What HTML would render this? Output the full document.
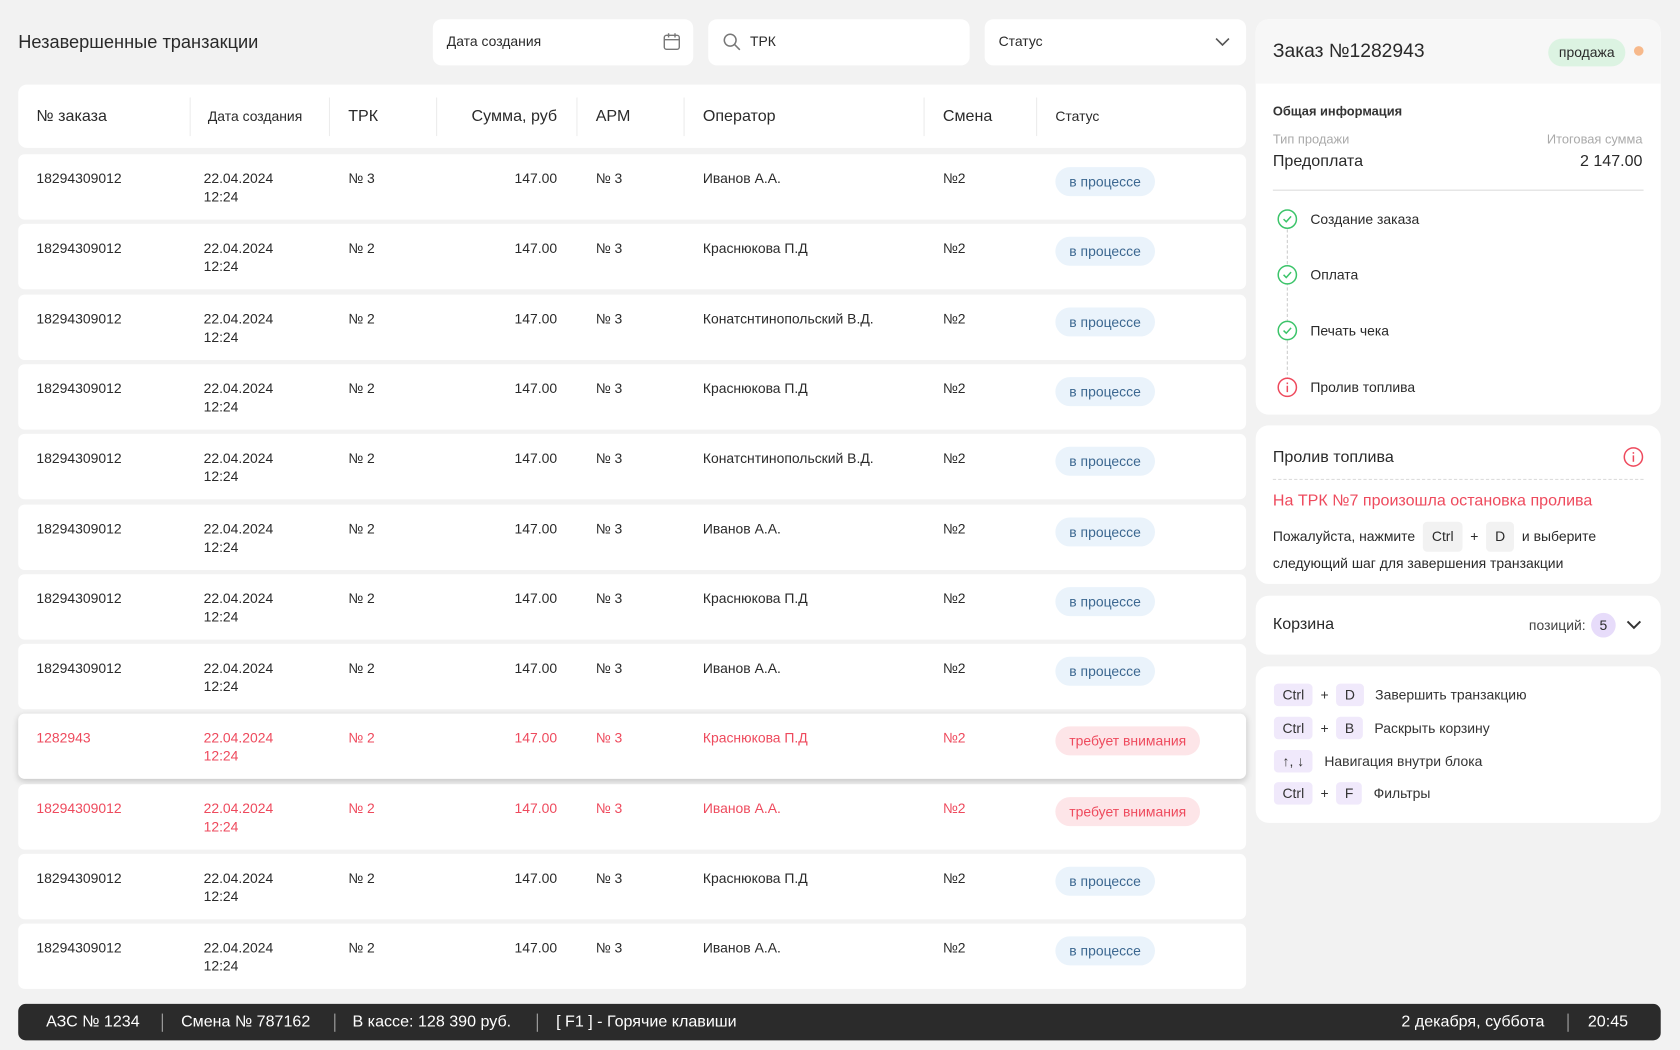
<!DOCTYPE html>
<html><head><meta charset="utf-8">
<style>
*{box-sizing:border-box;margin:0;padding:0}
html,body{width:1680px;height:1050px;overflow:hidden;background:#f2f2f2}
#root{width:1568px;height:980px;transform:scale(1.07143);transform-origin:0 0;position:relative;font-family:"Liberation Sans",sans-serif;color:#2a2a2a}
.abs{position:absolute}
.card{position:absolute;background:#fff;border-radius:12px}
.inp{position:absolute;top:18px;height:43px;background:#fff;border-radius:8px;font-size:13px;padding:13px 13px;color:#2a2a2a}
.th{position:absolute;top:79px;font-size:14px;color:#2a2a2a}
.sep{position:absolute;top:91px;width:1px;height:36px;background:#ececec}
.row{position:absolute;left:17px;width:1146px;height:61px;background:#fff;border-radius:6px;font-size:13px}
.row span{position:absolute;top:14px;line-height:17px}
.badge{position:absolute;top:12px;left:968px;height:27px;border-radius:14px;padding:6px 13px;font-size:13px;background:#eaf3fb;color:#3b6790}
.red{color:#ee4a5d}
.red .badge{background:#fde5e8;color:#ee4a5d}
.kbd{display:inline-block;background:#f0e9fb;border-radius:4px;padding:3px 8px;font-size:13px}
.hk{position:absolute;left:17px;font-size:13px;color:#333}
</style></head><body>
<div id="root">
<div class="abs" style="left:17px;top:30px;font-size:17px;font-weight:500">Незавершенные транзакции</div>
<div class="inp" style="left:404px;width:243px">Дата создания
<svg class="abs" style="left:214px;top:12px" width="18" height="18" viewBox="0 0 18 18" fill="none" stroke="#777" stroke-width="1.3"><rect x="2" y="3" width="14" height="13" rx="2"/><path d="M2 7h14M6 1v4M12 1v4"/></svg></div>
<div class="inp" style="left:661px;width:244px;padding-left:39px">ТРК
<svg class="abs" style="left:13px;top:12px" width="18" height="18" viewBox="0 0 18 18" fill="none" stroke="#777" stroke-width="1.4"><circle cx="7.5" cy="7.5" r="5.5"/><path d="M11.5 11.5l5 5"/></svg></div>
<div class="inp" style="left:919px;width:244px">Статус
<svg class="abs" style="left:214px;top:15px" width="16" height="12" viewBox="0 0 16 12" fill="none" stroke="#555" stroke-width="1.5"><path d="M2 3l6 6 6-6"/></svg></div>

<div class="card" style="left:17px;top:79px;width:1146px;height:59px;border-radius:8px"></div>
<div class="th" style="left:34px;top:100px;font-size:15px">№ заказа</div>
<div class="th" style="left:194px;top:101px;font-size:13px">Дата создания</div>
<div class="th" style="left:325px;top:100px;font-size:15px">ТРК</div>
<div class="th" style="left:420px;width:100px;text-align:right;top:100px;font-size:15px">Сумма, руб</div>
<div class="th" style="left:556px;top:100px;font-size:15px">АРМ</div>
<div class="th" style="left:656px;top:100px;font-size:15px">Оператор</div>
<div class="th" style="left:880px;top:100px;font-size:15px">Смена</div>
<div class="th" style="left:985px;top:101px;font-size:13px">Статус</div>
<div class="sep" style="left:177px"></div><div class="sep" style="left:307px"></div><div class="sep" style="left:407px"></div><div class="sep" style="left:538px"></div><div class="sep" style="left:638px"></div><div class="sep" style="left:862px"></div><div class="sep" style="left:967px"></div>
<div id="rows"></div>

<div class="card" style="left:1172px;top:18px;width:378px;height:369px;overflow:hidden">
 <div class="abs" style="left:0;top:0;width:378px;height:60px;background:#f7f7f7"></div>
 <div class="abs" style="left:16px;top:19px;font-size:18px">Заказ №1282943</div>
 <div class="abs" style="left:273px;top:18px;height:26px;padding:5px 10px;border-radius:13px;background:#dcf3e2;font-size:13px">продажа</div>
 <div class="abs" style="left:353px;top:25px;width:9px;height:9px;border-radius:50%;background:#f7b98b"></div>
 <div class="abs" style="left:16px;top:79px;font-size:12px;font-weight:bold;color:#333">Общая информация</div>
 <div class="abs" style="left:16px;top:105px;font-size:12px;color:#aaa">Тип продажи</div>
 <div class="abs" style="right:17px;top:105px;font-size:12px;color:#aaa">Итоговая сумма</div>
 <div class="abs" style="left:16px;top:124px;font-size:15px">Предоплата</div>
 <div class="abs" style="right:17px;top:124px;font-size:15px">2 147.00</div>
 <div class="abs" style="left:16px;top:159px;width:346px;height:1px;background:#ddd"></div>
 <div class="abs" style="left:29px;top:196px;height:146px;border-left:1px dashed #ccc"></div>
 <svg class="abs" style="left:20px;top:177px" width="19" height="19" viewBox="0 0 19 19" fill="#fff" stroke="#3cc46a" stroke-width="1.4"><circle cx="9.5" cy="9.5" r="8.5"/><path d="M6 9.5l2.5 2.5 4.5-5" fill="none"/></svg>
 <svg class="abs" style="left:20px;top:229px" width="19" height="19" viewBox="0 0 19 19" fill="#fff" stroke="#3cc46a" stroke-width="1.4"><circle cx="9.5" cy="9.5" r="8.5"/><path d="M6 9.5l2.5 2.5 4.5-5" fill="none"/></svg>
 <svg class="abs" style="left:20px;top:281px" width="19" height="19" viewBox="0 0 19 19" fill="#fff" stroke="#3cc46a" stroke-width="1.4"><circle cx="9.5" cy="9.5" r="8.5"/><path d="M6 9.5l2.5 2.5 4.5-5" fill="none"/></svg>
 <svg class="abs" style="left:20px;top:334px" width="19" height="19" viewBox="0 0 19 19" fill="#fff" stroke="#ee4a5d" stroke-width="1.4"><circle cx="9.5" cy="9.5" r="8.5"/><path d="M9.5 8v6M9.5 5v1.5" fill="none"/></svg>
 <div class="abs" style="left:51px;top:179px;font-size:13px">Создание заказа</div>
 <div class="abs" style="left:51px;top:231px;font-size:13px">Оплата</div>
 <div class="abs" style="left:51px;top:283px;font-size:13px">Печать чека</div>
 <div class="abs" style="left:51px;top:336px;font-size:13px">Пролив топлива</div>
</div>

<div class="card" style="left:1172px;top:397px;width:378px;height:148px">
 <div class="abs" style="left:16px;top:21px;font-size:15px">Пролив топлива</div>
 <svg class="abs" style="left:343px;top:20px" width="19" height="19" viewBox="0 0 19 19" fill="none" stroke="#ee4a5d" stroke-width="1.4"><circle cx="9.5" cy="9.5" r="8.5"/><path d="M9.5 8v6M9.5 5v1.5"/></svg>
 <div class="abs" style="left:16px;top:50px;width:346px;border-top:1px dashed #ddd"></div>
 <div class="abs" style="left:16px;top:62px;font-size:15px;color:#ee4a5d">На ТРК №7 произошла остановка пролива</div>
 <div class="abs" style="left:16px;top:90px;font-size:13px;line-height:22px;width:346px">Пожалуйста, нажмите <span class="kbd" style="background:#f2f2f2;margin:0 4px">Ctrl</span> + <span class="kbd" style="background:#f2f2f2;margin:0 4px">D</span> и выберите следующий шаг для завершения транзакции</div>
</div>

<div class="card" style="left:1172px;top:556px;width:378px;height:55px">
 <div class="abs" style="left:16px;top:18px;font-size:15px">Корзина</div>
 <div class="abs" style="left:255px;top:20px;font-size:13px;color:#444">позиций:</div>
 <div class="abs" style="left:313px;top:16px;width:23px;height:23px;border-radius:50%;background:#e7dcfa;text-align:center;font-size:13px;line-height:23px">5</div>
 <svg class="abs" style="left:345px;top:22px" width="16" height="12" viewBox="0 0 16 12" fill="none" stroke="#333" stroke-width="1.8"><path d="M2 2l6 6 6-6"/></svg>
</div>

<div class="card" style="left:1172px;top:622px;width:378px;height:146px">
 <div class="hk" style="top:16px"><span class="kbd">Ctrl</span>&nbsp;&nbsp;+&nbsp;&nbsp;<span class="kbd">D</span>&nbsp;&nbsp;&nbsp;Завершить транзакцию</div>
 <div class="hk" style="top:47px"><span class="kbd">Ctrl</span>&nbsp;&nbsp;+&nbsp;&nbsp;<span class="kbd">B</span>&nbsp;&nbsp;&nbsp;Раскрыть корзину</div>
 <div class="hk" style="top:78px"><span class="kbd">↑, ↓</span>&nbsp;&nbsp;&nbsp;Навигация внутри блока</div>
 <div class="hk" style="top:108px"><span class="kbd">Ctrl</span>&nbsp;&nbsp;+&nbsp;&nbsp;<span class="kbd">F</span>&nbsp;&nbsp;&nbsp;Фильтры</div>
</div>

<div class="abs" style="left:17px;top:937px;width:1533px;height:34px;background:#2b2b2b;border-radius:7px;color:#fff;font-size:15px;line-height:34px">
 <span class="abs" style="left:26px">АЗС № 1234</span>
 <span class="abs" style="left:134px;top:9px;width:1px;height:17px;background:#aaa"></span>
 <span class="abs" style="left:152px">Смена № 787162</span>
 <span class="abs" style="left:295px;top:9px;width:1px;height:17px;background:#aaa"></span>
 <span class="abs" style="left:312px">В кассе: 128 390 руб.</span>
 <span class="abs" style="left:484px;top:9px;width:1px;height:17px;background:#aaa"></span>
 <span class="abs" style="left:502px">[ F1 ] - Горячие клавиши</span>
 <span class="abs" style="left:1291px">2 декабря, суббота</span>
 <span class="abs" style="left:1446px;top:9px;width:1px;height:17px;background:#aaa"></span>
 <span class="abs" style="left:1465px">20:45</span>
</div>
</div>
<script>
const orders=["18294309012","18294309012","18294309012","18294309012","18294309012","18294309012","18294309012","18294309012","1282943","18294309012","18294309012","18294309012"];
const trks=["№ 3","№ 2","№ 2","№ 2","№ 2","№ 2","№ 2","№ 2","№ 2","№ 2","№ 2","№ 2"];
const operators=["Иванов А.А.","Краснюкова П.Д","Конатснтинопольский В.Д.","Краснюкова П.Д","Конатснтинопольский В.Д.","Иванов А.А.","Краснюкова П.Д","Иванов А.А.","Краснюкова П.Д","Иванов А.А.","Краснюкова П.Д","Иванов А.А."];
const statuses=["в процессе","в процессе","в процессе","в процессе","в процессе","в процессе","в процессе","в процессе","требует внимания","требует внимания","в процессе","в процессе"];
const c=document.getElementById('rows');
orders.forEach((o,i)=>{
 const r=document.createElement('div');
 
 
 r.className='row'+(statuses[i]!=='в процессе'?' red':'');
 r.style.top=(144+i*65.3)+'px';
 if(i===8)r.style.boxShadow='0 2px 6px rgba(0,0,0,0.18)';
 r.innerHTML=`<span style="left:17px">${o}</span><span style="left:173px">22.04.2024<br>12:24</span><span style="left:308px">${trks[i]}</span><span style="left:403px;width:100px;text-align:right">147.00</span><span style="left:539px">№ 3</span><span style="left:639px">${operators[i]}</span><span style="left:863px">№2</span><div class="badge">${statuses[i]}</div>`;
 c.appendChild(r);
});
</script>
</body></html>
